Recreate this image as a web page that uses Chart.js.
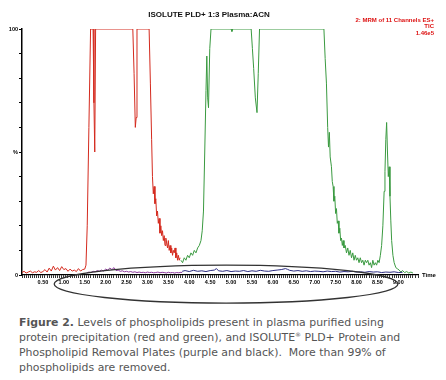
<!DOCTYPE html>
<html><head><meta charset="utf-8">
<script src="https://cdn.jsdelivr.net/npm/chart.js@4/dist/chart.umd.min.js"></script>
<style>
html,body{margin:0;padding:0;background:#fff;width:446px;height:380px;overflow:hidden}
#wrap{position:absolute;left:0;top:0;width:446px;height:310px}
#cap{position:absolute;left:19px;top:315px;font-family:Verdana,"DejaVu Sans",sans-serif;font-size:10.9px;line-height:15px;color:#555;white-space:pre}
#cap sup{font-size:6px;vertical-align:4px;line-height:0}
</style></head><body>
<div id="wrap"><canvas id="c"></canvas></div>
<div id="cap"><b>Figure 2.</b> Levels of phospholipids present in plasma purified using
protein precipitation (red and green), and ISOLUTE<sup>®</sup> PLD+ Protein and
Phospholipid Removal Plates (purple and black).  More than 99% of
phospholipids are removed.</div>
<script>
const title = "ISOLUTE PLD+ 1:3 Plasma:ACN";
const infoLines = ["2: MRM of 11 Channels ES+", "TIC", "1.46e5"];

const redT = [0,0.05,0.1,0.15,0.2,0.25,0.3,0.35,0.4,0.45,0.5,0.55,0.6,0.65,0.7,0.75,0.8,0.85,0.9,0.95,1.0,1.05,1.1,1.15,1.2,1.25,1.3,1.35,1.4,1.45,1.5,1.53,1.56,1.6,1.64,1.70,1.72,1.74,1.76,2.65,2.68,2.71,2.73,2.75,3.04,3.07,3.10,3.12,3.14,3.16,3.18,3.20,3.22,3.24,3.26,3.28,3.30,3.32,3.34,3.36,3.38,3.40,3.42,3.44,3.46,3.48,3.50,3.52,3.54,3.56,3.58,3.60,3.62,3.64,3.66,3.68,3.70,3.72,3.74,3.76,3.78];
const redY = [1,1.5,0.8,1.2,1.6,0.9,1.3,1.1,1.8,1.0,1.4,2.2,1.2,2.8,1.6,3.6,2.0,3.0,1.8,3.4,2.2,2.6,1.5,2.4,1.6,2.0,1.4,2.6,1.6,2.2,2.4,4,20,60,100,100,70,50,100,100,82,60,64,100,100,78,55,40,33,36,29,31,24,26,21,23,17,20,16,18,14,16,12,15,13,11,14,10,12,9,11,8,10,9,11,7,9,6,8,6,7];

const greenT = [3.80,3.84,3.88,3.92,3.96,4.00,4.04,4.08,4.12,4.16,4.20,4.24,4.28,4.31,4.34,4.37,4.40,4.42,4.44,4.46,4.49,4.52,5.00,5.02,5.04,5.48,5.51,5.54,5.58,5.62,5.65,5.68,7.22,7.25,7.28,7.31,7.33,7.35,7.37,7.40,7.42,7.44,7.46,7.48,7.50,7.52,7.54,7.56,7.58,7.60,7.62,7.64,7.66,7.68,7.70,7.73,7.76,7.79,7.82,7.85,7.88,7.91,7.94,7.97,8.00,8.03,8.06,8.09,8.12,8.15,8.18,8.21,8.24,8.27,8.30,8.33,8.36,8.39,8.42,8.45,8.48,8.51,8.54,8.57,8.60,8.63,8.66,8.68,8.70,8.72,8.74,8.76,8.78,8.80,8.82,8.84,8.87,8.90,8.94,8.98,9.02,9.06,9.10,9.15,9.20,9.25,9.30,9.35];
const greenY = [6,5,7,6,8,7,9,8,10,9,11,12,14,18,26,50,75,89,72,68,92,100,100,99,100,100,92,84,72,66,82,100,100,88,78,60,52,58,48,44,38,36,30,32,25,27,21,22,17,19,14,15,12,14,11,12,9,11,8,10,7,9,6,8,6,7,5,7,5,6,4,6,5,6,4,5,3,6,4,5,4,6,5,8,12,20,34,42,55,62,50,40,44,32,22,14,8,5,3,2.5,2,1.2,1.8,1,1.4,0.8,1.2,0.8];

const purpleT = [1.55,1.6,1.65,1.7,1.75,1.8,1.85,1.9,1.95,2.0,2.05,2.1,2.15,2.2,2.25,2.3,2.35,2.4,2.45,2.5,2.55,2.6,2.65,2.7,2.75,2.8,2.85,2.9,2.95,3.0,3.05,3.1,3.15,3.2,3.25,3.3,3.35,3.4,3.45,3.5,3.55,3.6,3.65,3.7,3.75,3.8,3.83];
const purpleY = [0.8,1.2,1.0,1.5,1.3,1.8,1.5,2.0,1.6,2.4,2.0,2.8,2.2,3.0,1.8,2.0,1.5,1.7,1.3,1.5,1.2,1.4,1.1,1.3,1.0,1.2,1.0,1.1,0.9,1.2,1.0,1.1,0.9,1.0,1.2,0.9,1.1,1.0,0.8,1.1,0.9,1.0,0.8,1.0,0.9,1.1,1.0];

const navyT = [3.83,3.9,4.0,4.1,4.2,4.3,4.4,4.5,4.6,4.65,4.7,4.8,4.9,5.0,5.1,5.2,5.3,5.4,5.5,5.6,5.7,5.8,5.9,6.0,6.1,6.2,6.3,6.35,6.4,6.5,6.6,6.7,6.8,6.9,7.0,7.1,7.2,7.3,7.4,7.5,7.6,7.7,7.8,7.9,8.0,8.1,8.2,8.3,8.4,8.5,8.6,8.7,8.8,8.9,9.0,9.1];
const navyY = [1.5,1.8,1.4,1.9,1.5,1.7,1.4,1.8,2.0,2.6,1.7,1.5,1.8,1.4,1.6,1.5,1.8,1.4,1.7,1.5,1.9,1.6,1.5,1.8,2.0,2.2,2.6,2.3,1.9,1.6,1.8,1.5,1.7,1.4,1.6,1.5,1.3,1.6,1.4,1.5,1.2,1.4,1.3,1.5,1.2,1.3,1.1,1.4,1.2,1.3,1.0,1.2,1.1,1.3,1.0,1.1];

const xTickStep = 0.05;
const yTickStep = 10;
const ellipse = {cx: 4.88, cy: -3.7, rx: 4.11, ry: 7.7};

function pts(t, y){ return t.map((v,i)=>({x:v, y:y[i]})); }

const overlay = {
  id:'overlay',
  afterDatasetsDraw(chart){
    const {ctx, scales:{x,y}, chartArea} = chart;
    ctx.save();
    const cx = x.getPixelForValue(ellipse.cx), cy = y.getPixelForValue(ellipse.cy);
    const rx = x.getPixelForValue(ellipse.cx+ellipse.rx) - cx;
    const ry = y.getPixelForValue(ellipse.cy) - y.getPixelForValue(ellipse.cy+ellipse.ry);
    ctx.beginPath();
    ctx.ellipse(cx, cy, rx, ry, 0, 0, Math.PI*2);
    ctx.strokeStyle = '#333';
    ctx.lineWidth = 1.3;
    ctx.stroke();
    ctx.fillStyle = '#dd1111';
    ctx.font = 'bold 6px "Liberation Sans", Arial, sans-serif';
    ctx.textAlign = 'right';
    ctx.textBaseline = 'middle';
    infoLines.forEach((s,i)=>ctx.fillText(s, 434, 20 + i*6.5));
    ctx.fillStyle = '#000';
    ctx.textAlign = 'left';
    ctx.fillText('Time', chartArea.right + 4, chartArea.bottom + 0.5);
    ctx.restore();
  }
};

new Chart(document.getElementById('c'), {
  type:'line',
  data:{datasets:[
    {data:pts(navyT,navyY), borderColor:'#2c2c80', borderWidth:1},
    {data:pts(purpleT,purpleY), borderColor:'#8b3a9c', borderWidth:1},
    {data:pts(redT,redY), borderColor:'#d42a1e', borderWidth:1},
    {data:pts(greenT,greenY), borderColor:'#3a9a40', borderWidth:1}
  ]},
  options:{
    responsive:true, maintainAspectRatio:false, animation:false,
    elements:{point:{radius:0}, line:{tension:0}},
    layout:{padding:{left:0,right:28,top:0,bottom:0}},
    plugins:{
      legend:{display:false}, tooltip:{enabled:false},
      title:{display:true, text:title, color:'#111',
        font:{family:'"Liberation Sans", Arial, sans-serif', size:8, weight:'bold', lineHeight:1.2},
        padding:{top:9.5,bottom:9.9}}
    },
    scales:{
      x:{type:'linear', min:0, max:9.47,
        afterFit(s){ s.height = 35; },
        border:{color:'#000', width:1.2},
        grid:{drawOnChartArea:false, tickLength:3, tickColor:'#000', tickWidth:0.8},
        ticks:{stepSize:xTickStep, autoSkip:false, maxRotation:0, padding:1, color:'#000',
          font:{family:'"Liberation Sans", Arial, sans-serif', size:5.5, weight:'bold'},
          callback(v){ const h = Math.round(v*100); return (h>0 && h%50===0) ? (h/100).toFixed(2) : ''; }}
      },
      y:{min:0, max:100,
        afterFit(s){ s.width = 22; },
        border:{color:'#000', width:1.5},
        grid:{drawOnChartArea:false, tickLength:3, tickColor:'#000', tickWidth:1},
        ticks:{stepSize:yTickStep, autoSkip:false, padding:1, color:'#000',
          font:{family:'"Liberation Sans", Arial, sans-serif', size:5.5, weight:'bold'},
          callback(v){ return v===100?'100':(v===50?'%':(v===0?'0':'')); }}
      }
    }
  },
  plugins:[overlay]
});
</script>
</body></html>
